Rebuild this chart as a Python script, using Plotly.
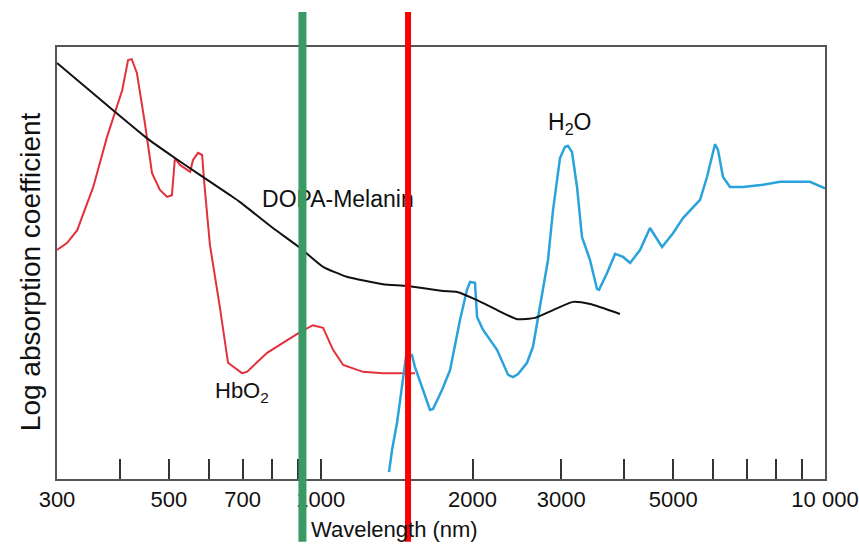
import math
import plotly.graph_objects as go

# ---- data (wavelength in nm, relative log absorption 0-100) ----
melanin_wl = [300, 387, 452, 514, 576, 661, 692, 804, 910, 1011, 1127, 1329, 1483,
              1749, 1864, 2042, 2237, 2451, 2661, 2889, 3165, 3420, 3921]
melanin_val = [96.3, 85.4, 78.9, 74.3, 70.4, 65.7, 64.1, 58.1, 53.5, 49.1, 46.8, 45.1,
               44.7, 43.5, 43.3, 41.4, 39.1, 37.0, 37.3, 39.1, 41.0, 40.5, 38.2]

hbo2_wl = [300, 314, 329, 354, 377, 404, 415, 422, 432, 448, 463, 480, 496, 507, 514,
           526, 551, 558, 571, 582, 587, 603, 631, 655, 698, 714, 783, 910, 965, 1011,
           1058, 1108, 1213, 1329, 1538]
hbo2_val = [53.0, 54.6, 57.6, 67.6, 79.2, 90.0, 97.0, 97.2, 94.0, 82.4, 70.8, 66.9,
            65.3, 65.7, 74.3, 72.7, 71.1, 73.8, 75.5, 75.0, 69.2, 54.2, 39.8, 26.9,
            24.5, 24.8, 29.2, 34.0, 35.6, 35.0, 29.9, 26.4, 24.8, 24.5, 24.5]

water_wl = [1366, 1385, 1417, 1456, 1476, 1517, 1538, 1588, 1647, 1670, 1740, 1805,
            1889, 1950, 1978, 2023, 2042, 2099, 2237, 2353, 2407, 2462, 2565, 2636,
            2685, 2759, 2823, 2889, 2982, 3051, 3093, 3150, 3223, 3297, 3420, 3531,
            3564, 3697, 3835, 3978, 4107, 4297, 4497, 4752, 4996, 5229, 5652, 5835,
            6051, 6135, 6277, 6481, 6879, 7536, 8146, 9339, 9912, 10000]
water_val = [1.6, 6.7, 13.0, 23.6, 28.2, 28.7, 25.9, 21.3, 16.0, 16.2, 20.6, 25.2,
             36.8, 43.8, 45.6, 45.4, 37.5, 34.5, 29.9, 24.1, 23.6, 24.3, 26.9, 30.6,
             36.1, 43.8, 50.7, 62.3, 74.3, 76.9, 77.1, 75.7, 67.6, 56.0, 50.7, 44.0,
             43.8, 47.7, 52.1, 51.4, 50.0, 53.0, 58.1, 53.7, 56.9, 60.4, 64.6, 69.9,
             77.5, 76.2, 69.9, 67.6, 67.6, 68.1, 68.8, 68.8, 67.6, 67.3]

tick_vals = [300, 500, 700, 1000, 2000, 3000, 5000, 10000]
tick_text = ["300", "500", "700", "1000", "2000", "3000", "5000", "10 000"]
minor_tick_vals = [400, 600, 800, 900, 4000, 6000, 7000, 8000, 9000]

marker_lines = [(920, "#379b63", 8), (1490, "#ff0000", 6)]

FONT = "Liberation Sans, Arial, Helvetica, sans-serif"

fig = go.Figure()
fig.add_trace(go.Scatter(x=hbo2_wl, y=hbo2_val, mode="lines",
                         line=dict(color="#e2313b", width=2), showlegend=False))
fig.add_trace(go.Scatter(x=water_wl, y=water_val, mode="lines",
                         line=dict(color="#2aa2db", width=2.5), showlegend=False))
fig.add_trace(go.Scatter(x=melanin_wl, y=melanin_val, mode="lines",
                         line=dict(color="#111111", width=2, shape="spline", smoothing=0.5),
                         showlegend=False))

# label drawn as a text trace so that the vertical marker lines cover it
fig.add_trace(go.Scatter(x=[765], y=[64.4], mode="text", text=["DOPA-Melanin"],
                         textposition="middle right", cliponaxis=False,
                         textfont=dict(family=FONT, size=23, color="#111111"),
                         showlegend=False, hoverinfo="skip"))

fig.add_annotation(x=math.log10(3108), y=82.2, xref="x", yref="y",
                   text="H<sub>2</sub>O", showarrow=False,
                   font=dict(family=FONT, size=23, color="#111111"))
fig.add_annotation(x=math.log10(698), y=20.1, xref="x", yref="y",
                   text="HbO<sub>2</sub>", showarrow=False,
                   font=dict(family=FONT, size=22, color="#111111"))
fig.add_annotation(x=-0.035, y=0.479, xref="paper", yref="paper",
                   xanchor="center", yanchor="middle",
                   text="Log absorption coefficient", textangle=-90, showarrow=False,
                   font=dict(family=FONT, size=28, color="#111111"))
fig.add_annotation(x=0.440, y=-0.118, xref="paper", yref="paper",
                   xanchor="center", yanchor="middle",
                   text="Wavelength (nm)", showarrow=False,
                   font=dict(family=FONT, size=22, color="#111111"))

for wl, col, w in marker_lines:
    fig.add_shape(type="line", xref="x", yref="paper", x0=wl, x1=wl,
                  y0=-0.145, y1=1.081, line=dict(color=col, width=w), layer="above")

fig.update_layout(
    width=859, height=552,
    margin=dict(l=57, r=34, t=47, b=73),
    paper_bgcolor="white", plot_bgcolor="white",
    font=dict(family=FONT, color="#111111"),
    xaxis=dict(type="log", range=[2.4771, 4.0], tickmode="array",
               tickvals=tick_vals, ticktext=tick_text, ticks="inside", ticklen=20,
               tickwidth=1.5, tickcolor="#333333", showline=True, linecolor="#555555",
               linewidth=2, mirror=True, showgrid=False, zeroline=False,
               ticklabeloverflow="allow", automargin=False,
               tickfont=dict(family=FONT, size=22, color="#111111"),
               minor=dict(tickmode="array", tickvals=minor_tick_vals, ticks="inside",
                          ticklen=20, tickwidth=1.5, tickcolor="#333333",
                          showgrid=False)),
    yaxis=dict(range=[0, 100], showticklabels=False, ticks="", showline=True,
               linecolor="#555555", linewidth=2, mirror=True, showgrid=False,
               zeroline=False, automargin=False),
)

fig.write_html("out.html", config={"displayModeBar": False})

# remove the default page margin so the figure sits at the window's top-left corner
with open("out.html", "r", encoding="utf-8") as f:
    html = f.read()
html = html.replace("<head>", "<head><style>html,body{margin:0;padding:0;}</style>", 1)
with open("out.html", "w", encoding="utf-8") as f:
    f.write(html)
